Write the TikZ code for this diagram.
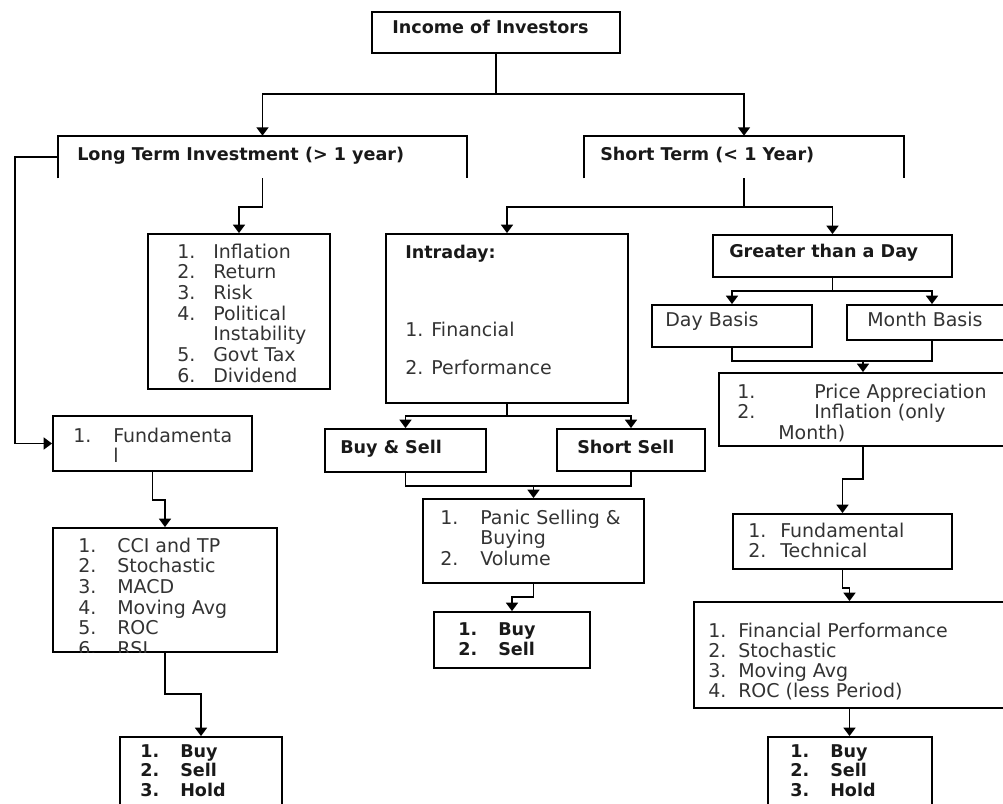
\documentclass[tikz,border=0pt]{standalone}
\usepackage{fontspec}
\newfontfamily\diagfont{DejaVu Sans}
\usetikzlibrary{arrows.meta,fit}
\newdimen\pxu \pxu=0.025cm
\newcommand{\numlist}[2]{\begin{tabular}[t]{@{}p{#1}@{}l@{}}#2\end{tabular}}

\begin{document}
\begin{tikzpicture}[x=0.025cm, y=-0.025cm,
    box/.style={draw, line width=1.3pt, inner sep=0pt},
    wire/.style={line width=1.3pt},
    arr/.style={line width=1.3pt, -{Triangle[width=8.5pt,length=6pt]}},
    txt/.style={font=\diagfont\fontsize{13.5}{14.7}\selectfont, text=black!80, inner sep=0pt, anchor=base west},
    btxt/.style={txt, font=\diagfont\bfseries\fontsize{12.5}{14.7}\selectfont, text=black!90}]
    \useasboundingbox (0,0) rectangle (1003,803);
    \clip (0,0) rectangle (1003,803);

    % boxes
    \node[box, fit={(372,12) (620,53)}] (inc) {};
    \node[inner sep=0pt, fit={(58,136) (467,178)}] (lt) {};
    \node[inner sep=0pt, fit={(584,136) (904,178)}] (st) {};
    \node[box, fit={(148,234) (330,389)}] (fac) {};
    \node[box, fit={(53,416) (252,471)}] (fund) {};
    \node[box, fit={(53,528) (277,652)}] (cci) {};
    \node[box, fit={(120,737) (282,830)}] (bsh1) {};
    \node[box, fit={(386,234) (628,403)}] (intra) {};
    \node[box, fit={(325,429) (486,472)}] (bs) {};
    \node[box, fit={(557,429) (705,471)}] (ss) {};
    \node[box, fit={(423,499) (644,583)}] (panic) {};
    \node[box, fit={(434,612) (590,668)}] (bs2) {};
    \node[box, fit={(713,235) (952,277)}] (gtd) {};
    \node[box, fit={(652,305) (812,347)}] (day) {};
    \node[box, fit={(847,305) (1017,340)}] (month) {};
    \node[box, fit={(719,373) (1007,446)}] (price) {};
    \node[box, fit={(733,514) (952,569)}] (ft) {};
    \node[box, fit={(694,602) (1005,708)}] (fp) {};
    \node[box, fit={(768,737) (932,830)}] (bsh2) {};
    \draw[wire] (lt.south west) -- (lt.north west) -- (lt.north east) -- (lt.south east);
    \draw[wire] (st.south west) -- (st.north west) -- (st.north east) -- (st.south east);

    % texts
    \node[btxt] (incT) at (392,33) {Income of Investors};
    \node[btxt] (ltT) at (77,160) {Long Term Investment (> 1 year)};
    \node[btxt] (stT) at (600,160) {Short Term (< 1 Year)};
    \node[txt] (facT) at (177,258) {\numlist{36\pxu}{1.&Inflation\\2.&Return\\3.&Risk\\4.&Political\\&Instability\\5.&Govt Tax\\6.&Dividend}};
    \node[txt] (fundT) at (73,442) {\numlist{40\pxu}{1.&Fundamenta\\&l}};
    \begin{scope}
        \clip (cci.north west) rectangle (cci.south east);
        \node[txt] (cciT) at (78,552) {\numlist{39\pxu}{1.&CCI and TP\\2.&Stochastic\\3.&MACD\\4.&Moving Avg\\5.&ROC\\6.&RSI}};
    \end{scope}
    \node[btxt, font=\diagfont\bfseries\fontsize{12.5}{14.2}\selectfont] (bsh1T) at (140,757) {\numlist{40\pxu}{1.&Buy\\2.&Sell\\3.&Hold}};
    \node[btxt] (intraT) at (405,258) {Intraday:};
    \node[txt] (finT) at (405,336) {1. Financial};
    \node[txt] (perfT) at (405,374) {2. Performance};
    \node[btxt] (bsT) at (340,453) {Buy \& Sell};
    \node[btxt] (ssT) at (577,453) {Short Sell};
    \node[txt] (panicT) at (440,524) {\numlist{40\pxu}{1.&Panic Selling \&\\&Buying\\2.&Volume}};
    \node[btxt] (bs2T) at (458,635) {\numlist{40\pxu}{1.&Buy\\2.&Sell}};
    \node[btxt] (gtdT) at (729,257) {Greater than a Day};
    \node[txt] (dayT) at (665,326) {Day Basis};
    \node[txt] (monthT) at (867,326) {Month Basis};
    \node[txt] (priceT) at (737,398) {\numlist{77\pxu}{1.&Price Appreciation\\2.&Inflation (only\\\multicolumn{2}{@{}l@{}}{\hspace{41\pxu}Month)}}};
    \node[txt] (ftT) at (748,537) {\numlist{32\pxu}{1.&Fundamental\\2.&Technical}};
    \node[txt, font=\diagfont\fontsize{13.5}{13.8}\selectfont] (fpT) at (708,637) {\numlist{30\pxu}{1.&Financial Performance\\2.&Stochastic\\3.&Moving Avg\\4.&ROC (less Period)}};
    \node[btxt, font=\diagfont\bfseries\fontsize{12.5}{14.2}\selectfont] (bsh2T) at (790,757) {\numlist{40\pxu}{1.&Buy\\2.&Sell\\3.&Hold}};

    % connectors
    \coordinate (incj) at (496,94);
    \draw[wire] (inc.south) -- (incj);
    \draw[arr] (incj) -| (lt.north);
    \draw[arr] (incj) -| (st.north);
    \draw[arr] (lt.south) -- ++(0,29) -| (fac.north);
    \draw[arr] (lt.west) -- ++(-43,0) |- (fund.west);
    \draw[arr] (fund.south) -- ++(0,28) -| (cci.north);
    \draw[arr] (cci.south) -- ++(0,41) -| (bsh1.north);
    \path (st.south) ++(0,29) coordinate (stj);
    \draw[wire] (st.south) -- (stj);
    \draw[arr] (stj) -| (intra.north);
    \draw[arr] (stj) -| (gtd.north);
    \path (intra.south) ++(0,12) coordinate (intj);
    \draw[wire] (intra.south) -- (intj);
    \draw[arr] (intj) -| (bs.north);
    \draw[arr] (intj) -| (ss.north);
    \path (bs.south) ++(0,13) coordinate (bsj);
    \draw[wire] (bs.south) -- (bsj) -| (ss.south);
    \draw[arr] (bsj -| panic.north) -- (panic.north);
    \draw[arr] (panic.south) -- ++(0,13) -| (bs2.north);
    \path (gtd.south) ++(0,13) coordinate (gtdj);
    \draw[wire] (gtd.south) -- (gtdj);
    \draw[arr] (gtdj) -| (day.north);
    \draw[arr] (gtdj) -| (month.north);
    \path (day.south) ++(0,13) coordinate (dayj);
    \draw[wire] (day.south) -- (dayj) -| (month.south);
    \draw[arr] (dayj -| price.north) -- (price.north);
    \draw[arr] (price.south) -- ++(0,32) -| (ft.north);
    \draw[arr] (ft.south) -- ++(0,18) -| (fp.north);
    \draw[arr] (fp.south) -- (fp.south |- bsh2.north);
\end{tikzpicture}
\end{document}
